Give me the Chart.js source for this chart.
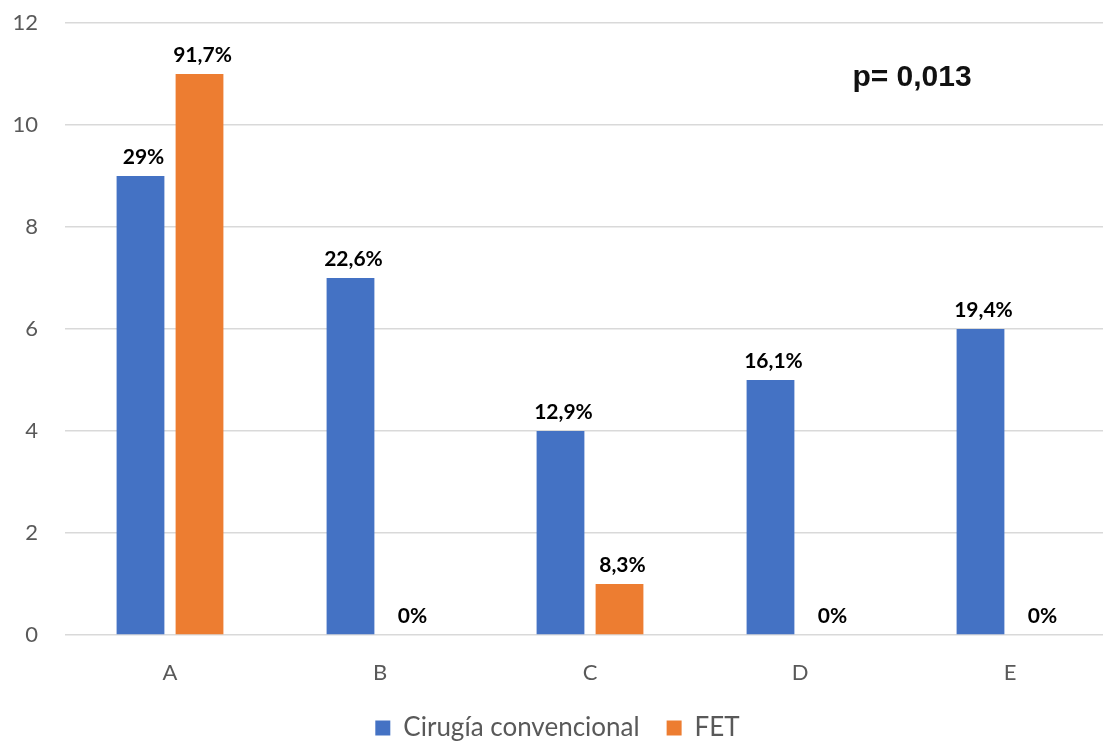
<!DOCTYPE html>
<html>
<head>
<meta charset="utf-8">
<script src="https://cdn.jsdelivr.net/npm/chart.js@4.4.1/dist/chart.umd.min.js"></script>
<style>
  html, body { margin: 0; padding: 0; background: #fff; overflow: hidden; }
  #wrap { position: relative; width: 1115px; height: 751px; }
</style>
</head>
<body>
<div id="wrap"><canvas id="c"></canvas></div>
<script>
const categories = ['A', 'B', 'C', 'D', 'E'];
const seriesNames = ['Cirugía convencional', 'FET'];
const cirugiaValues = [9, 7, 4, 5, 6];
const fetValues = [11, 0, 1, 0, 0];
const cirugiaLabels = ['29%', '22,6%', '12,9%', '16,1%', '19,4%'];
const fetLabels = ['91,7%', '0%', '8,3%', '0%', '0%'];
const yTicks = [0, 2, 4, 6, 8, 10, 12];
const annotationText = 'p= 0,013';

const valueLabels = [cirugiaLabels, fetLabels];

const labelPlugin = {
  id: 'valueLabels',
  afterDatasetsDraw(chart) {
    const ctx = chart.ctx;
    ctx.save();
    ctx.font = 'bold 21px Lato';
    ctx.fillStyle = '#000000';
    ctx.textAlign = 'center';
    ctx.textBaseline = 'bottom';
    chart.data.datasets.forEach((ds, di) => {
      const meta = chart.getDatasetMeta(di);
      meta.data.forEach((el, i) => {
        ctx.fillText(valueLabels[di][i], el.x + 3, el.y - 8);
      });
    });
    const a = chart.chartArea;
    ctx.font = 'bold 30px "Liberation Sans", Arial, sans-serif';
    ctx.textBaseline = 'middle';
    ctx.textAlign = 'center';
    ctx.fillStyle = '#111111';
    ctx.fillText(annotationText, a.left + (a.right - a.left) * 0.8067, a.top + (a.bottom - a.top) * 0.090);
    ctx.restore();
  }
};

new Chart(document.getElementById('c'), {
  type: 'bar',
  data: {
    labels: categories,
    datasets: [
      { label: seriesNames[0], data: cirugiaValues, backgroundColor: '#4472C4', borderWidth: 0 },
      { label: seriesNames[1], data: fetValues, backgroundColor: '#ED7D31', borderWidth: 0 }
    ]
  },
  options: {
    responsive: true,
    maintainAspectRatio: false,
    animation: false,
    categoryPercentage: 0.562,
    barPercentage: 0.81,
    layout: { padding: { top: 23, right: 0, bottom: 0, left: 0 } },
    plugins: {
      legend: {
        position: 'bottom',
        labels: {
          boxWidth: 15,
          boxHeight: 15,
          padding: 27,
          color: '#595959',
          font: { family: 'Lato', size: 26 }
        }
      },
      tooltip: { enabled: false }
    },
    scales: {
      x: {
        grid: { display: false },
        border: { display: false },
        ticks: { color: '#595959', font: { family: 'Lato', size: 22 }, padding: 17 },
        afterFit(scale) { scale.height = 53; scale.paddingLeft = 0; scale.paddingRight = 0; }
      },
      y: {
        min: 0,
        max: 12,
        afterBuildTicks(scale) { scale.ticks = yTicks.map(v => ({ value: v })); },
        grid: { color: '#D9D9D9', lineWidth: 1.5, drawTicks: false },
        border: { display: false },
        ticks: { color: '#595959', font: { family: 'Lato', size: 22 }, padding: 27 },
        afterFit(scale) { scale.width = 65; scale.paddingTop = 0; scale.paddingBottom = 0; }
      }
    }
  },
  plugins: [labelPlugin]
});
</script>
</body>
</html>
